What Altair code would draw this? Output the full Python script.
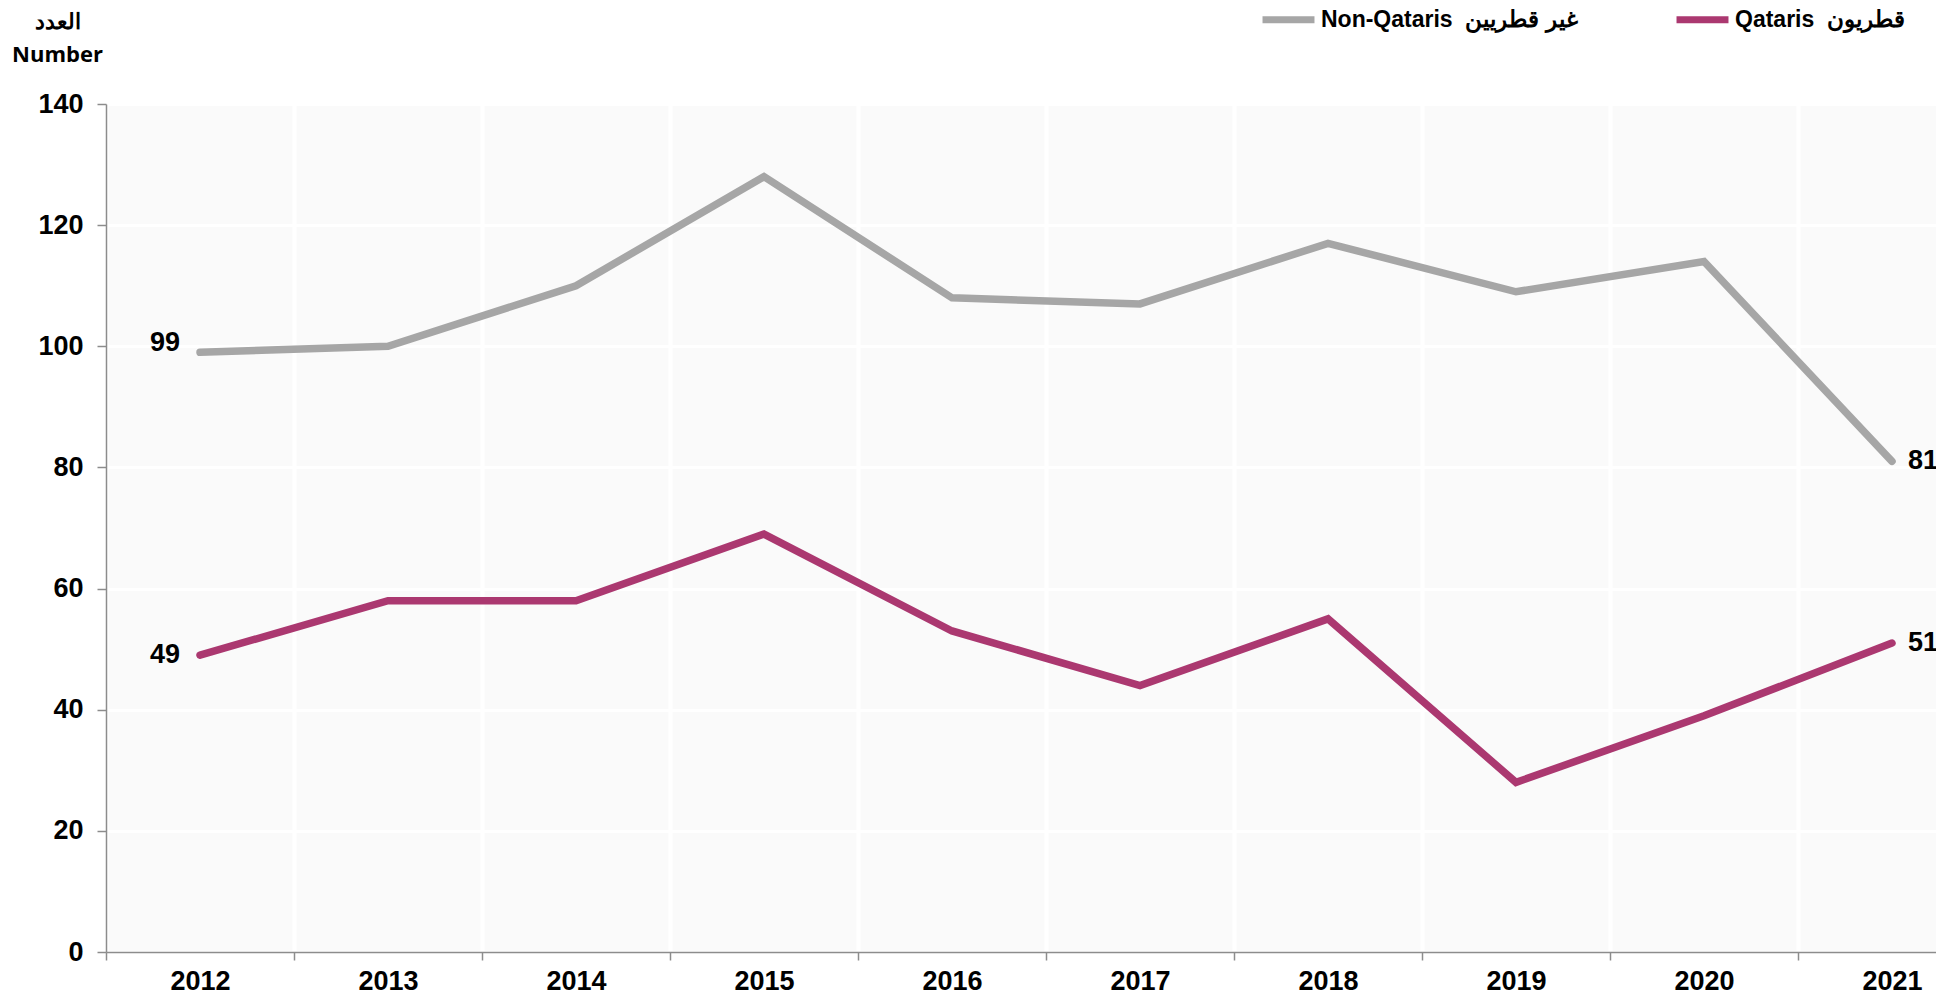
import altair as alt
import pandas as pd

years = [2012, 2013, 2014, 2015, 2016, 2017, 2018, 2019, 2020, 2021]
non_qataris = [99, 100, 110, 128, 108, 107, 117, 109, 114, 81]
qataris = [49, 58, 58, 69, 53, 44, 55, 28, 39, 51]

NONQ = "Non-Qataris\u00a0\u00a0غير قطريين"
QAT = "Qataris\u00a0\u00a0قطريون"
series_names = [NONQ, QAT]
series_colors = ["#a6a6a6", "#ab3870"]
y_ticks = [0, 20, 40, 60, 80, 100, 120, 140]
x_bounds = [y - 0.5 for y in years]
y_title = ["العدد", "Number"]

rows = []
for y, v in zip(years, non_qataris):
    rows.append({"year": y, "series": NONQ, "value": v, "first": y == years[0], "last": y == years[-1]})
for y, v in zip(years, qataris):
    rows.append({"year": y, "series": QAT, "value": v, "first": y == years[0], "last": y == years[-1]})
df = pd.DataFrame(rows)

FONT = "Liberation Sans Narrow, Arial Narrow, Liberation Sans, Arial"
FS = 27

x_enc = alt.X(
    "year:Q",
    scale=alt.Scale(domain=[2011.5, 2021.5], range=[0, 1880], nice=False, zero=False),
    axis=alt.Axis(
        values=x_bounds,
        labelExpr="toString(datum.value + 0.5)",
        labelOffset=94,
        labelAlign="center",
        labelFlush=False,
        labelOverlap=False,
        labelBound=False,
        labelPadding=8,
        labelFont=FONT,
        labelFontSize=FS,
        labelFontWeight="bold",
        labelColor="black",
        tickSize=8,
        tickColor="#8c8c8c",
        tickWidth=1.5,
        domainColor="#8c8c8c",
        domainWidth=1.5,
        grid=True,
        gridColor="white",
        gridWidth=4,
        title=None,
    ),
)
y_enc = alt.Y(
    "value:Q",
    scale=alt.Scale(domain=[0, 140], nice=False),
    axis=alt.Axis(
        values=y_ticks,
        labelFont=FONT,
        labelFontSize=FS,
        labelFontWeight="bold",
        labelColor="black",
        labelPadding=14,
        tickSize=9,
        tickColor="#8c8c8c",
        tickWidth=1.5,
        domainColor="#8c8c8c",
        domainWidth=1.5,
        grid=True,
        gridColor="white",
        gridWidth=3,
        title=y_title,
        titleAngle=0,
        titleX=-49,
        titleY=-93,
        titleAlign="center",
        titleBaseline="top",
        titleFont="Open Sans",
        titleFontSize=22,
        titleFontWeight="bold",
        titleColor="black",
        titleLineHeight=33,
    ),
)
color_enc = alt.Color(
    "series:N",
    scale=alt.Scale(domain=series_names, range=series_colors),
    legend=alt.Legend(
        title=None,
        orient="none",
        direction="horizontal",
        legendX=1153,
        legendY=-114,
        symbolType="stroke",
        symbolSize=2700,
        symbolStrokeWidth=7,
        labelFont=FONT,
        labelFontSize=23,
        labelFontWeight="bold",
        labelColor="black",
        labelOffset=3,
        columnPadding=84,
        labelLimit=400,
    ),
)

base = alt.Chart(df).encode(x=x_enc, y=y_enc)

lines = base.mark_line(strokeWidth=7.5, strokeCap="round").encode(color=color_enc)

txt = dict(font=FONT, fontSize=FS, fontWeight="bold", color="black", baseline="middle")
lab_first_top = base.mark_text(align="right", dx=-20, dy=-9, **txt).encode(text="value:Q").transform_filter(
    (alt.datum.first) & (alt.datum.series == NONQ)
)
lab_first_bot = base.mark_text(align="right", dx=-20, **txt).encode(text="value:Q").transform_filter(
    (alt.datum.first) & (alt.datum.series == QAT)
)
lab_last = base.mark_text(align="left", dx=16, **txt).encode(text="value:Q").transform_filter(alt.datum.last)

chart = (
    alt.layer(lines, lab_first_top, lab_first_bot, lab_last)
    .properties(
        width=1830,
        height=848,
        autosize=alt.AutoSizeParams(type="none"),
        padding={"left": 98, "top": 96, "right": 0, "bottom": 38},
    )
    .configure_view(stroke=None, fill="#fafafa")
)

chart.save("out.html", embed_options={"renderer": "svg", "actions": False})
